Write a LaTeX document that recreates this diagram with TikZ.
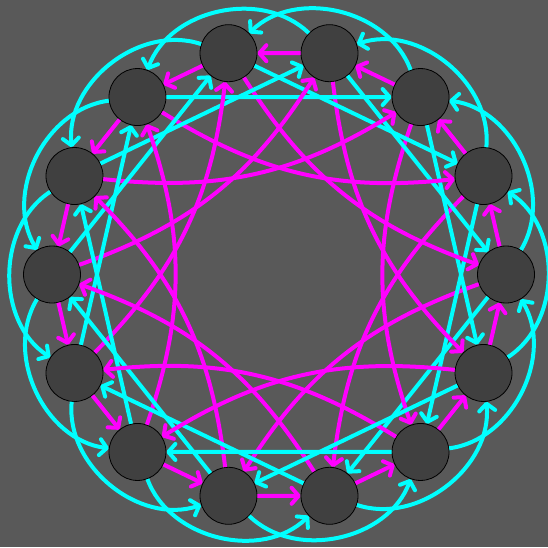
\documentclass[tikz,border=0pt]{standalone}
\usetikzlibrary{arrows.meta}
\definecolor{bgc}{HTML}{595959}
\definecolor{nodefill}{HTML}{404040}
\definecolor{cyn}{RGB}{0,255,255}
\definecolor{mgt}{RGB}{255,0,255}
\begin{document}
\begin{tikzpicture}[x=1pt,y=1pt,
  vtx/.style={circle,fill=nodefill,draw=black,line width=0.8pt,minimum size=57pt,inner sep=0pt},
  tipstyle/.style={-{Straight Barb[length=7pt,width=16pt,round]}},
  magline/.style={draw=mgt,line width=4pt,tipstyle},
  cyline/.style={draw=cyn,line width=4pt,tipstyle}]
\useasboundingbox (0,0) rectangle (548,547);
\fill[bgc] (0,0) rectangle (548,547);
\foreach \i in {0,...,13} {
  \node[vtx] (n\i) at ({279+227*cos(\i*360/14)},{272.5+227*sin(\i*360/14)}) {};
}
\foreach \i in {0,...,13} {
  \pgfmathtruncatemacro\a{mod(\i+1,14)}
  \pgfmathtruncatemacro\b{mod(\i+2,14)}
  \pgfmathtruncatemacro\c{mod(\i+11,14)}
  \pgfmathtruncatemacro\d{mod(\i+10,14)}
  \draw[cyline] (n\i) to[bend right=57] (n\b);
  \draw[cyline] (n\i) -- (n\c);
  \draw[magline] (n\i) to[bend right=19] (n\d);
  \draw[magline] (n\i) -- (n\a);
}
\end{tikzpicture}
\end{document}
